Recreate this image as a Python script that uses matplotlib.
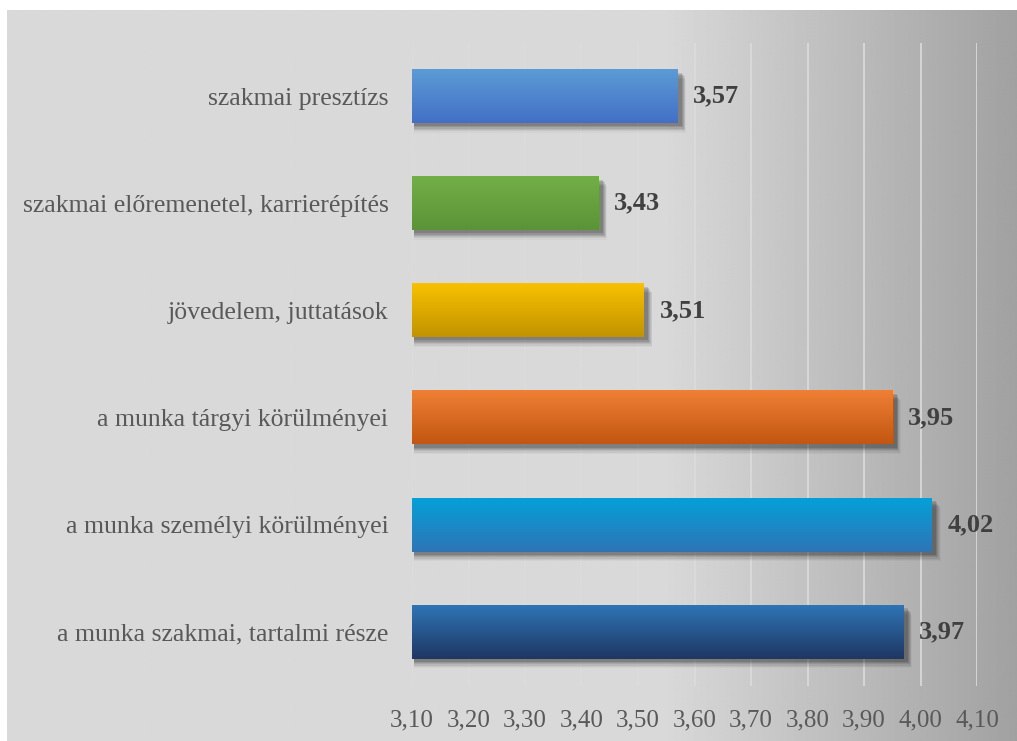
import numpy as np
import matplotlib
matplotlib.use('Agg')
import matplotlib.pyplot as plt
from matplotlib.patches import Rectangle
from matplotlib.colors import LinearSegmentedColormap

plt.rcParams['font.family'] = ['Liberation Serif', 'DejaVu Serif']

# data (bottom to top)
categories = ['a munka szakmai, tartalmi része',
              'a munka személyi körülményei',
              'a munka tárgyi körülményei',
              'jövedelem, juttatások',
              'szakmai előremenetel, karrierépítés',
              'szakmai presztízs']
values = [3.97, 4.02, 3.95, 3.51, 3.43, 3.57]
value_labels = ['3,97', '4,02', '3,95', '3,51', '3,43', '3,57']
xticks = [3.10, 3.20, 3.30, 3.40, 3.50, 3.60, 3.70, 3.80, 3.90, 4.00, 4.10]
xtick_labels = ['3,10', '3,20', '3,30', '3,40', '3,50', '3,60', '3,70', '3,80', '3,90', '4,00', '4,10']

# gradient colours (top, bottom) for each bar
bar_colors = [('#2e74b5', '#1f3763'),
              ('#04a0d8', '#2e75b6'),
              ('#ee7f35', '#c35711'),
              ('#f7c100', '#c29300'),
              ('#72ae48', '#5b9437'),
              ('#5b9bd5', '#4370c6')]

W, H = 1017, 741
fig = plt.figure(figsize=(W / 100, H / 100), dpi=100)
fig.patch.set_facecolor('white')

# background panel with horizontal gradient
bg = fig.add_axes([0, 0, 1, 1], zorder=0)
bg.set_xlim(0, W)
bg.set_ylim(0, H)
bg.axis('off')
xs = np.arange(W)
shade = np.where(xs < 660, 0.851, 0.851 - (xs - 660) / (W - 660) * 0.22)
grad = np.tile(shade, (10, 1))
bg.imshow(grad, cmap='gray', vmin=0, vmax=1, extent=(7, W, 0, H - 10),
          aspect='auto', interpolation='bilinear')

ax = fig.add_axes([412 / W, 55.5 / H, 565 / W, 643 / H], zorder=1)
ax.patch.set_alpha(0)

y = np.arange(len(categories))
h = 0.5
for i in range(len(categories)):
    v = values[i]
    # soft drop shadow
    for k, a in zip(range(6), [0.13, 0.11, 0.09, 0.07, 0.05, 0.03]):
        off = 0.004 + k * 0.0015
        ax.add_patch(Rectangle((3.10 + 0.004, y[i] - h / 2 - 0.03 - k * 0.012),
                               v - 3.10 + off, h, color='black', alpha=a,
                               lw=0, zorder=2))
    cmap = LinearSegmentedColormap.from_list('g%d' % i, [bar_colors[i][1], bar_colors[i][0]])
    g = np.linspace(0, 1, 50).reshape(-1, 1)
    ax.imshow(g, cmap=cmap, origin='lower', aspect='auto',
              extent=(3.10, v, y[i] - h / 2, y[i] + h / 2), zorder=3,
              interpolation='bilinear')
    ax.text(v + 0.028, y[i], value_labels[i], va='center', ha='left',
            fontsize=19, fontweight='bold', color='#404040', zorder=4)

ax.set_xlim(3.10, 4.10)
ax.set_ylim(-0.5, len(categories) - 0.5)
ax.set_xticks(xticks)
ax.set_xticklabels(xtick_labels, fontsize=18, color='#595959')
ax.set_yticks(y)
ax.set_yticklabels(categories, fontsize=18.5, color='#595959')
ax.tick_params(axis='x', length=0, pad=17)
ax.tick_params(axis='y', length=0, pad=17)
ax.grid(axis='x', color='#dcdcdc', lw=1.2, zorder=1)
ax.set_axisbelow(True)
for s in ax.spines.values():
    s.set_visible(False)

fig.savefig('out.png', dpi=100)
